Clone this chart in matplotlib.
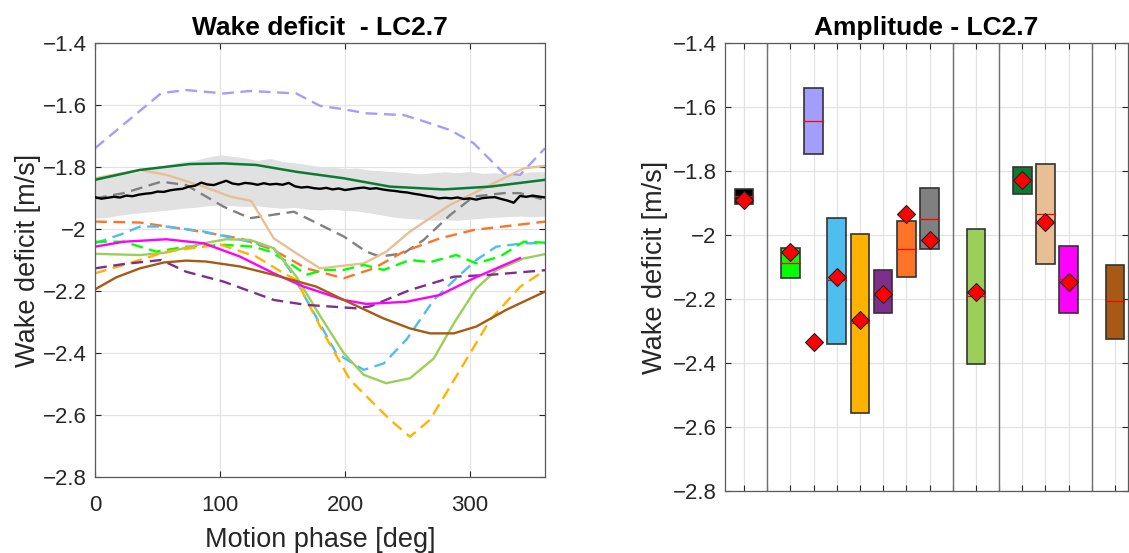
import numpy as np
import matplotlib
matplotlib.use("Agg")
import matplotlib.pyplot as plt
from matplotlib.patches import Rectangle

plt.rcParams['font.family'] = ['Liberation Sans', 'DejaVu Sans']

# ---------------- left panel data (phase in deg, wake deficit in m/s) ----------------
black_phase = list(range(0, 365, 5))
black_mean = [-1.897, -1.902, -1.899, -1.896, -1.898, -1.892, -1.894, -1.889, -1.886, -1.884,
              -1.879, -1.880, -1.875, -1.872, -1.870, -1.863, -1.860, -1.850, -1.856, -1.858,
              -1.851, -1.844, -1.853, -1.856, -1.851, -1.853, -1.857, -1.852, -1.856, -1.854,
              -1.857, -1.851, -1.862, -1.866, -1.864, -1.868, -1.870, -1.867, -1.872, -1.869,
              -1.874, -1.871, -1.868, -1.866, -1.870, -1.868, -1.872, -1.875, -1.877, -1.880,
              -1.882, -1.886, -1.889, -1.893, -1.896, -1.901, -1.899, -1.901, -1.898, -1.903,
              -1.901, -1.905, -1.900, -1.898, -1.897, -1.903, -1.908, -1.915, -1.893, -1.896,
              -1.892, -1.895, -1.898]

band_phase = list(range(0, 370, 10))
band_upper = [-1.835, -1.830, -1.822, -1.818, -1.810, -1.800, -1.790, -1.782, -1.778, -1.768,
              -1.760, -1.765, -1.770, -1.778, -1.772, -1.782, -1.786, -1.792, -1.798, -1.800,
              -1.805, -1.803, -1.810, -1.812, -1.815, -1.818, -1.822, -1.818, -1.815, -1.818,
              -1.814, -1.820, -1.818, -1.822, -1.820, -1.815, -1.815]
band_lower = [-1.965, -1.962, -1.955, -1.950, -1.946, -1.942, -1.938, -1.933, -1.930, -1.925,
              -1.922, -1.925, -1.927, -1.925, -1.930, -1.933, -1.930, -1.936, -1.938, -1.936,
              -1.940, -1.942, -1.948, -1.955, -1.962, -1.966, -1.968, -1.972, -1.970, -1.972,
              -1.968, -1.965, -1.962, -1.960, -1.958, -1.960, -1.958]

lavender_ph = [0, 53, 73, 103, 124, 161, 180, 199, 217, 247, 260, 284, 303, 327, 340, 360]
lavender_v = [-1.739, -1.561, -1.551, -1.562, -1.554, -1.562, -1.602, -1.613, -1.626, -1.632,
              -1.648, -1.680, -1.723, -1.820, -1.825, -1.739]

dkgreen_ph = [0, 36, 76, 103, 129, 161, 199, 236, 279, 316, 360]
dkgreen_v = [-1.841, -1.809, -1.790, -1.788, -1.793, -1.815, -1.836, -1.863, -1.872, -1.863, -1.841]

grey_ph = [0, 23, 53, 73, 103, 124, 159, 183, 199, 217, 228, 247, 263, 284, 303, 327, 340, 360]
grey_v = [-1.901, -1.884, -1.847, -1.858, -1.928, -1.965, -1.944, -1.992, -2.024, -2.073,
          -2.089, -2.078, -2.035, -1.955, -1.895, -1.884, -1.884, -1.906]

tan_ph = [0, 36, 57, 87, 108, 125, 143, 161, 180, 215, 233, 252, 284, 316, 343, 360]
tan_v = [-1.836, -1.809, -1.825, -1.863, -1.895, -1.909, -2.030, -2.078, -2.127, -2.111,
         -2.073, -2.008, -1.922, -1.858, -1.804, -1.796]

orange_ph = [0, 36, 76, 116, 143, 169, 199, 223, 247, 276, 303, 360]
orange_v = [-1.976, -1.979, -2.003, -2.030, -2.068, -2.127, -2.159, -2.127, -2.073, -2.030,
            -2.003, -1.976]

cyan_ph = [0, 23, 36, 57, 87, 129, 143, 156, 175, 193, 215, 231, 249, 271, 289, 305, 321, 343, 360]
cyan_v = [-2.046, -2.014, -1.992, -1.992, -2.008, -2.046, -2.062, -2.133, -2.270, -2.401,
          -2.455, -2.434, -2.358, -2.229, -2.159, -2.100, -2.057, -2.046, -2.046]

lime_ph = [0, 23, 49, 73, 103, 127, 140, 156, 169, 183, 199, 215, 231, 252, 268, 289, 305, 324, 343, 360]
lime_v = [-2.041, -2.041, -2.073, -2.057, -2.051, -2.057, -2.073, -2.111, -2.148, -2.132,
          -2.132, -2.116, -2.132, -2.100, -2.107, -2.084, -2.111, -2.089, -2.041, -2.044]

magenta_ph = [0, 23, 57, 87, 116, 143, 167, 199, 217, 249, 276, 303, 340]
magenta_v = [-2.057, -2.041, -2.033, -2.046, -2.089, -2.143, -2.186, -2.229, -2.242, -2.235,
             -2.213, -2.159, -2.094]

ltgreen_ph = [0, 36, 57, 87, 105, 124, 143, 161, 180, 199, 215, 233, 252, 271, 287, 305, 321, 343, 360]
ltgreen_v = [-2.080, -2.084, -2.076, -2.046, -2.033, -2.035, -2.062, -2.153, -2.280, -2.401,
             -2.471, -2.498, -2.482, -2.418, -2.305, -2.192, -2.133, -2.095, -2.081]

yellow_ph = [0, 23, 57, 100, 129, 151, 161, 183, 204, 236, 252, 268, 289, 316, 340, 360]
yellow_v = [-2.143, -2.116, -2.073, -2.050, -2.089, -2.143, -2.164, -2.337, -2.487, -2.616,
            -2.671, -2.616, -2.476, -2.294, -2.187, -2.133]

purple_ph = [0, 23, 53, 73, 103, 143, 169, 209, 220, 252, 287, 316, 360]
purple_v = [-2.127, -2.113, -2.100, -2.138, -2.170, -2.229, -2.245, -2.256, -2.250, -2.197,
            -2.154, -2.148, -2.133]

brown_ph = [0, 17, 36, 55, 73, 89, 116, 143, 177, 199, 231, 252, 268, 287, 305, 329, 360]
brown_v = [-2.195, -2.156, -2.127, -2.108, -2.102, -2.105, -2.121, -2.148, -2.186, -2.229,
           -2.289, -2.321, -2.337, -2.337, -2.315, -2.261, -2.202]

# ---------------- right panel data ----------------
box_pos = [1, 3, 4, 5, 6, 7, 8, 9, 11, 13, 14, 15, 17]
box_top = [-1.857, -2.040, -1.542, -1.946, -1.998, -2.109, -1.956, -1.854, -1.982, -1.789, -1.779, -2.033, -2.094]
box_bot = [-1.904, -2.133, -1.748, -2.342, -2.555, -2.245, -2.130, -2.043, -2.403, -1.872, -2.090, -2.245, -2.324]
box_med = [-1.879, -2.088, -1.644, -2.142, -2.274, -2.176, -2.045, -1.949, -2.191, -1.830, -1.933, -2.136, -2.207]
box_col = ['#000000', '#00FF00', '#A39EFC', '#4DBEEE', '#FFB300', '#7E2F8E', '#FF7326',
           '#808080', '#9BCF5A', '#0A7A35', '#E8BF94', '#FF00FF', '#A85A14']
dia_pos = [1, 3, 4, 5, 6, 7, 8, 9, 11, 13, 14, 15]
dia_val = [-1.891, -2.052, -2.335, -2.132, -2.265, -2.185, -1.933, -2.016, -2.177, -1.828, -1.960, -2.148]
sep_pos = [2, 10, 12, 16]

yticks = np.arange(-2.8, -1.39, 0.2)
ylabels = ['\u22122.8', '\u22122.6', '\u22122.4', '\u22122.2', '\u22122', '\u22121.8', '\u22121.6', '\u22121.4']

fig = plt.figure(figsize=(11.29, 5.53), dpi=100)
W, H = 1129, 553

# left axes
ax = fig.add_axes([95 / W, 1 - 476.7 / H, 450 / W, 433.4 / H])
ax.fill_between(band_phase, band_lower, band_upper, color='#e1e1e1', lw=0, zorder=1)
dash = (5, 2.8)
lw = 1.7
ax.plot(lavender_ph, lavender_v, color='#A39EFC', lw=lw, dashes=dash, zorder=2)
ax.plot(grey_ph, grey_v, color='#808080', lw=lw, dashes=dash, zorder=2)
ax.plot(tan_ph, tan_v, color='#E8BF94', lw=lw, zorder=2)
ax.plot(orange_ph, orange_v, color='#FF7326', lw=lw, dashes=dash, zorder=2)
ax.plot(cyan_ph, cyan_v, color='#4DBEEE', lw=lw, dashes=dash, zorder=2)
ax.plot(lime_ph, lime_v, color='#00FF00', lw=lw, dashes=dash, zorder=2)
ax.plot(ltgreen_ph, ltgreen_v, color='#9BCF5A', lw=lw, zorder=2)
ax.plot(yellow_ph, yellow_v, color='#FFB300', lw=lw, dashes=dash, zorder=2)
ax.plot(purple_ph, purple_v, color='#7E2F8E', lw=lw, dashes=dash, zorder=2)
ax.plot(magenta_ph, magenta_v, color='#FF00FF', lw=lw, zorder=2)
ax.plot(brown_ph, brown_v, color='#A85A14', lw=lw, zorder=2)
ax.plot(dkgreen_ph, dkgreen_v, color='#0A7A35', lw=1.8, zorder=3)
ax.plot(black_phase, black_mean, color='black', lw=1.7, zorder=3)

ax.set_xlim(0, 360)
ax.set_ylim(-2.8, -1.4)
ax.set_xticks([0, 100, 200, 300])
ax.set_yticks(yticks)
ax.set_yticklabels(ylabels)
ax.set_xlabel('Motion phase [deg]', fontsize=19.5, color='#262626')
ax.set_ylabel('Wake deficit [m/s]', fontsize=19.5, color='#262626')
ax.xaxis.set_label_coords(0.5, -0.117)
ax.yaxis.set_label_coords(-0.12, 0.5)
ax.set_title('Wake deficit  - LC2.7', fontsize=19, fontweight='bold', pad=6)

# right axes
ax2 = fig.add_axes([725 / W, 1 - 491 / H, 403 / W, 448 / H])
for p in sep_pos:
    ax2.axvline(p, color='#707070', lw=1.0, zorder=1)
for p, t, b, m, c in zip(box_pos, box_top, box_bot, box_med, box_col):
    ax2.add_patch(Rectangle((p - 0.4, b), 0.8, t - b, facecolor=c, edgecolor='#333333', lw=1.2, zorder=2))
    ax2.plot([p - 0.4, p + 0.4], [m, m], color='red', lw=0.9, zorder=3)
ax2.plot(dia_pos, dia_val, ls='none', marker='D', ms=9.5, mfc='red', mec='#222222', mew=0.8, zorder=4)
ax2.set_xlim(0.18, 17.56)
ax2.set_ylim(-2.8, -1.4)
ax2.set_xticks(range(1, 18))
ax2.set_xticklabels([])
ax2.set_yticks(yticks)
ax2.set_yticklabels(ylabels)
ax2.set_ylabel('Wake deficit [m/s]', fontsize=19.5, color='#262626')
ax2.yaxis.set_label_coords(-0.141, 0.5)
ax2.set_title('Amplitude - LC2.7', fontsize=19, fontweight='bold', pad=6)

for a in (ax, ax2):
    a.grid(True, color='#e3e3e3', lw=0.9)
    a.set_axisbelow(True)
    a.tick_params(direction='in', top=True, right=True, labelsize=16, colors='#262626',
                  length=4, width=0.8)
    a.tick_params(axis='y', pad=6)
    a.tick_params(axis='x', pad=13)
    for s in a.spines.values():
        s.set_color('#5a5a5a')
        s.set_linewidth(0.9)

fig.savefig('out.png', dpi=100)
